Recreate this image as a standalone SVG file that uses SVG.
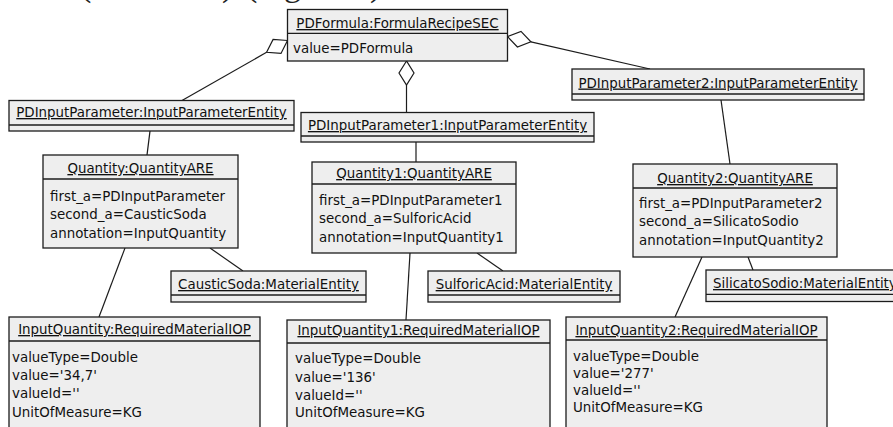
<svg xmlns="http://www.w3.org/2000/svg" width="893" height="427" viewBox="0 0 893 427">
  <style>
    .box { fill: #eeeeee; stroke: #1c1c1c; stroke-width: 1.3; }
    .div { stroke: #1c1c1c; stroke-width: 1.3; }
    .link { stroke: #1c1c1c; stroke-width: 1.2; fill: none; }
    .dia { fill: #ffffff; stroke: #1c1c1c; stroke-width: 1.2; }
    text { font-family: "DejaVu Sans", "Noto Sans", sans-serif; font-size: 13.4px; fill: #111111; }
    .hd { text-anchor: middle; text-decoration: underline; }
    .cap { font-family: "Liberation Serif", serif; font-size: 34px; fill: #222222; }
  </style>

  <rect x="0" y="0" width="893" height="427" fill="#ffffff"/>

  <!-- caption line above the diagram, mostly outside the frame -->
  <g id="caption">
    <text class="cap" x="80" y="-4">(</text>
    <text class="cap" x="222" y="-4">)</text>
    <text class="cap" x="246" y="-4">(</text>
    <text class="cap" x="284" y="-4">g</text>
    <text class="cap" x="370" y="-4">)</text>
  </g>

  <!-- aggregation and association links -->
  <g id="connectors">
    <polygon class="dia" points="287.5,40.5 273.1,39.4 266.6,52.3 281.0,53.4"/>
    <line class="link" x1="266.6" y1="52.3" x2="182" y2="100.5"/>
    <polygon class="dia" points="406.5,61 399,73 406.5,85 414,73"/>
    <line class="link" x1="406.5" y1="85" x2="406.5" y2="112.5"/>
    <polygon class="dia" points="507.5,36.5 521.0,31.4 530.9,41.8 517.4,47.0"/>
    <line class="link" x1="530.9" y1="41.8" x2="650" y2="69"/>

    <line class="link" x1="150" y1="131" x2="147" y2="155"/>
    <line class="link" x1="416" y1="142" x2="416" y2="162"/>
    <line class="link" x1="721" y1="100" x2="730" y2="164"/>

    <line class="link" x1="210" y1="248" x2="243" y2="271"/>
    <line class="link" x1="125" y1="248" x2="99" y2="317"/>
    <line class="link" x1="477" y1="253" x2="503" y2="271"/>
    <line class="link" x1="410" y1="253" x2="406" y2="320"/>
    <line class="link" x1="748" y1="257" x2="753" y2="270"/>
    <line class="link" x1="702" y1="257" x2="675" y2="317"/>
  </g>

  <g id="PDFormula">
    <rect class="box" x="287.5" y="9.5" width="220" height="51.5"/>
    <line class="div" x1="287.5" y1="33.3" x2="507.5" y2="33.3"/>
    <text class="hd" x="397.5" y="28">PDFormula:FormulaRecipeSEC</text>
    <text x="293" y="53">value=PDFormula</text>
  </g>

  <g id="PDInputParameter">
    <rect class="box" x="9" y="100.5" width="285" height="30.5"/>
    <line class="div" x1="9" y1="125" x2="294" y2="125"/>
    <text class="hd" x="151.5" y="117">PDInputParameter:InputParameterEntity</text>
  </g>

  <g id="PDInputParameter1">
    <rect class="box" x="301" y="112.5" width="293" height="29.5"/>
    <line class="div" x1="301" y1="136" x2="594" y2="136"/>
    <text class="hd" x="447.5" y="130">PDInputParameter1:InputParameterEntity</text>
  </g>

  <g id="PDInputParameter2">
    <rect class="box" x="572" y="69" width="292" height="31"/>
    <line class="div" x1="572" y1="94" x2="864" y2="94"/>
    <text class="hd" x="718" y="87.5">PDInputParameter2:InputParameterEntity</text>
  </g>

  <g id="Quantity">
    <rect class="box" x="43" y="155" width="195" height="93"/>
    <line class="div" x1="43" y1="179" x2="238" y2="179"/>
    <text class="hd" x="140.5" y="173">Quantity:QuantityARE</text>
    <text x="50" y="200.5">first_a=PDInputParameter</text>
    <text x="50" y="219">second_a=CausticSoda</text>
    <text x="50" y="237.5">annotation=InputQuantity</text>
  </g>

  <g id="Quantity1">
    <rect class="box" x="312" y="162" width="204" height="91"/>
    <line class="div" x1="312" y1="184" x2="516" y2="184"/>
    <text class="hd" x="414" y="178">Quantity1:QuantityARE</text>
    <text x="319" y="205">first_a=PDInputParameter1</text>
    <text x="319" y="223">second_a=SulforicAcid</text>
    <text x="319" y="241.5">annotation=InputQuantity1</text>
  </g>

  <g id="Quantity2">
    <rect class="box" x="633" y="164" width="204" height="93"/>
    <line class="div" x1="633" y1="188" x2="837" y2="188"/>
    <text class="hd" x="735" y="183">Quantity2:QuantityARE</text>
    <text x="639" y="208">first_a=PDInputParameter2</text>
    <text x="639" y="226">second_a=SilicatoSodio</text>
    <text x="639" y="244.5">annotation=InputQuantity2</text>
  </g>

  <g id="CausticSoda">
    <rect class="box" x="171" y="271" width="195" height="31"/>
    <line class="div" x1="171" y1="295" x2="366" y2="295"/>
    <text class="hd" x="268.5" y="289">CausticSoda:MaterialEntity</text>
  </g>

  <g id="SulforicAcid">
    <rect class="box" x="428" y="271" width="192" height="31"/>
    <line class="div" x1="428" y1="295" x2="620" y2="295"/>
    <text class="hd" x="524" y="289">SulforicAcid:MaterialEntity</text>
  </g>

  <g id="SilicatoSodio">
    <rect class="box" x="706" y="270" width="200" height="31.5"/>
    <line class="div" x1="706" y1="294.3" x2="906" y2="294.3"/>
    <text x="713" y="288" text-decoration="underline">SilicatoSodio:MaterialEntity</text>
  </g>

  <g id="InputQuantity">
    <rect class="box" x="9" y="317" width="251" height="120"/>
    <line class="div" x1="9" y1="341" x2="260" y2="341"/>
    <text class="hd" x="134.5" y="334">InputQuantity:RequiredMaterialIOP</text>
    <text x="12" y="362">valueType=Double</text>
    <text x="12" y="380">value='34,7'</text>
    <text x="12" y="398">valueId=''</text>
    <text x="12" y="416.5">UnitOfMeasure=KG</text>
  </g>

  <g id="InputQuantity1">
    <rect class="box" x="287" y="320" width="263" height="120"/>
    <line class="div" x1="287" y1="343" x2="550" y2="343"/>
    <text class="hd" x="418.5" y="335">InputQuantity1:RequiredMaterialIOP</text>
    <text x="295" y="363">valueType=Double</text>
    <text x="295" y="381.5">value='136'</text>
    <text x="295" y="399.5">valueId=''</text>
    <text x="295" y="417">UnitOfMeasure=KG</text>
  </g>

  <g id="InputQuantity2">
    <rect class="box" x="566" y="317" width="261" height="120"/>
    <line class="div" x1="566" y1="340" x2="827" y2="340"/>
    <text class="hd" x="696.5" y="335">InputQuantity2:RequiredMaterialIOP</text>
    <text x="573" y="361">valueType=Double</text>
    <text x="573" y="377.5">value='277'</text>
    <text x="573" y="394.5">valueId=''</text>
    <text x="573" y="412">UnitOfMeasure=KG</text>
  </g>
</svg>
